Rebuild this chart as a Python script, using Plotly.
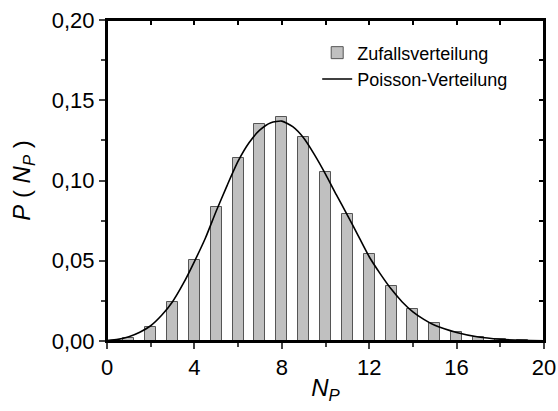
import plotly.graph_objects as go

# Data
n_values = list(range(1, 20))
p_random = [0.002, 0.0085, 0.0242, 0.0504, 0.0835, 0.114, 0.1354, 0.1398, 0.127,
            0.105, 0.079, 0.054, 0.034, 0.020, 0.011, 0.0056, 0.0023, 0.001, 0.0004]

curve_x = [0, 0.5, 1, 1.5, 2, 2.5, 3, 3.5, 4, 4.5, 5, 5.5, 6, 6.5, 7, 7.5, 8, 8.5,
           9, 9.5, 10, 10.5, 11, 11.5, 12, 12.5, 13, 13.5, 14, 14.5, 15, 16, 17, 18, 19, 20]
curve_y = [0.0003, 0.0010, 0.0027, 0.0055, 0.0095, 0.016, 0.0245, 0.036, 0.0495, 0.064,
           0.081, 0.097, 0.112, 0.1235, 0.1315, 0.136, 0.137, 0.1335, 0.1265, 0.116,
           0.104, 0.091, 0.0785, 0.0655, 0.0525, 0.042, 0.0325, 0.0245, 0.0182, 0.0135,
           0.0098, 0.0053, 0.0025, 0.0011, 0.0004, 0.0001]

x_ticks = [0, 4, 8, 12, 16, 20]
y_ticks = [0.00, 0.05, 0.10, 0.15, 0.20]
x_top_ticks = [2, 4, 6, 8, 10, 12, 14, 16, 18]
y_right_ticks = [0.025, 0.05, 0.075, 0.1, 0.125, 0.15, 0.175]

FONT = "Liberation Sans, Arial, sans-serif"

fig = go.Figure()
fig.add_trace(go.Bar(
    x=n_values, y=p_random, width=0.5, name="Zufallsverteilung",
    marker=dict(color="#c0c0c0", line=dict(color="#555555", width=1)),
))
fig.add_trace(go.Scatter(
    x=curve_x, y=curve_y, mode="lines", name="Poisson-Verteilung",
    xaxis="x2", yaxis="y2",
    line=dict(color="black", width=1.6, shape="spline", smoothing=0.6),
))

# plot frame (top and right edges of the axes box)
fig.add_shape(type="rect", xref="paper", yref="paper", x0=0, x1=1, y0=0, y1=1,
              line=dict(color="black", width=2), fillcolor="rgba(0,0,0,0)", layer="above")

fig.update_layout(
    width=558, height=411,
    margin=dict(l=107, r=14, t=20, b=70),
    paper_bgcolor="white", plot_bgcolor="rgba(0,0,0,0)",
    separators=",.",
    font=dict(family=FONT, color="black", size=22),
    showlegend=True,
    legend=dict(x=0.481, y=0.955, xanchor="left", yanchor="top",
                bgcolor="rgba(0,0,0,0)", font=dict(size=18, family=FONT),
                tracegroupgap=0, itemwidth=30),
    bargap=0,
    xaxis=dict(range=[0, 20], domain=[0, 1], anchor="y", tickvals=x_ticks, ticks="outside",
               ticklen=6, tickwidth=2, mirror=True,
               showline=True, linecolor="black", linewidth=2, showgrid=False, zeroline=False,
               automargin=False,
               minor=dict(dtick=2, tick0=0, ticks="outside", ticklen=4, tickwidth=2),
               title=dict(text="<i>N<sub>P</sub></i>", font=dict(size=24), standoff=0),
               tickfont=dict(size=22)),
    yaxis=dict(range=[0, 0.20], domain=[0, 1], anchor="x", tickvals=y_ticks, tickformat=".2f",
               ticks="outside", ticklen=6, tickwidth=2, automargin=False, mirror=True,
               showline=True, linecolor="black", linewidth=2, showgrid=False, zeroline=False,
               minor=dict(dtick=0.025, tick0=0, ticks="outside", ticklen=4, tickwidth=2),
               title=dict(text="<i>P</i> ( <i>N<sub>P</sub></i> )", font=dict(size=24), standoff=14),
               tickfont=dict(size=22)),
    xaxis2=dict(range=[0, 20], domain=[0, 1], anchor="y2", side="top", tickmode="array",
                tickvals=x_top_ticks, ticks="inside", ticklen=5, tickwidth=2, tickcolor="black",
                showticklabels=False, showline=False, showgrid=False, zeroline=False),
    yaxis2=dict(range=[0, 0.20], domain=[0, 1], anchor="x2", side="right", tickmode="array",
                tickvals=y_right_ticks, ticks="inside", ticklen=5, tickwidth=2, tickcolor="black",
                showticklabels=False, showline=False, showgrid=False, zeroline=False),
)

fig.write_html("out.html", config={"displayModeBar": False},
               post_script="document.body.style.margin='0';document.body.style.overflow='hidden';")
